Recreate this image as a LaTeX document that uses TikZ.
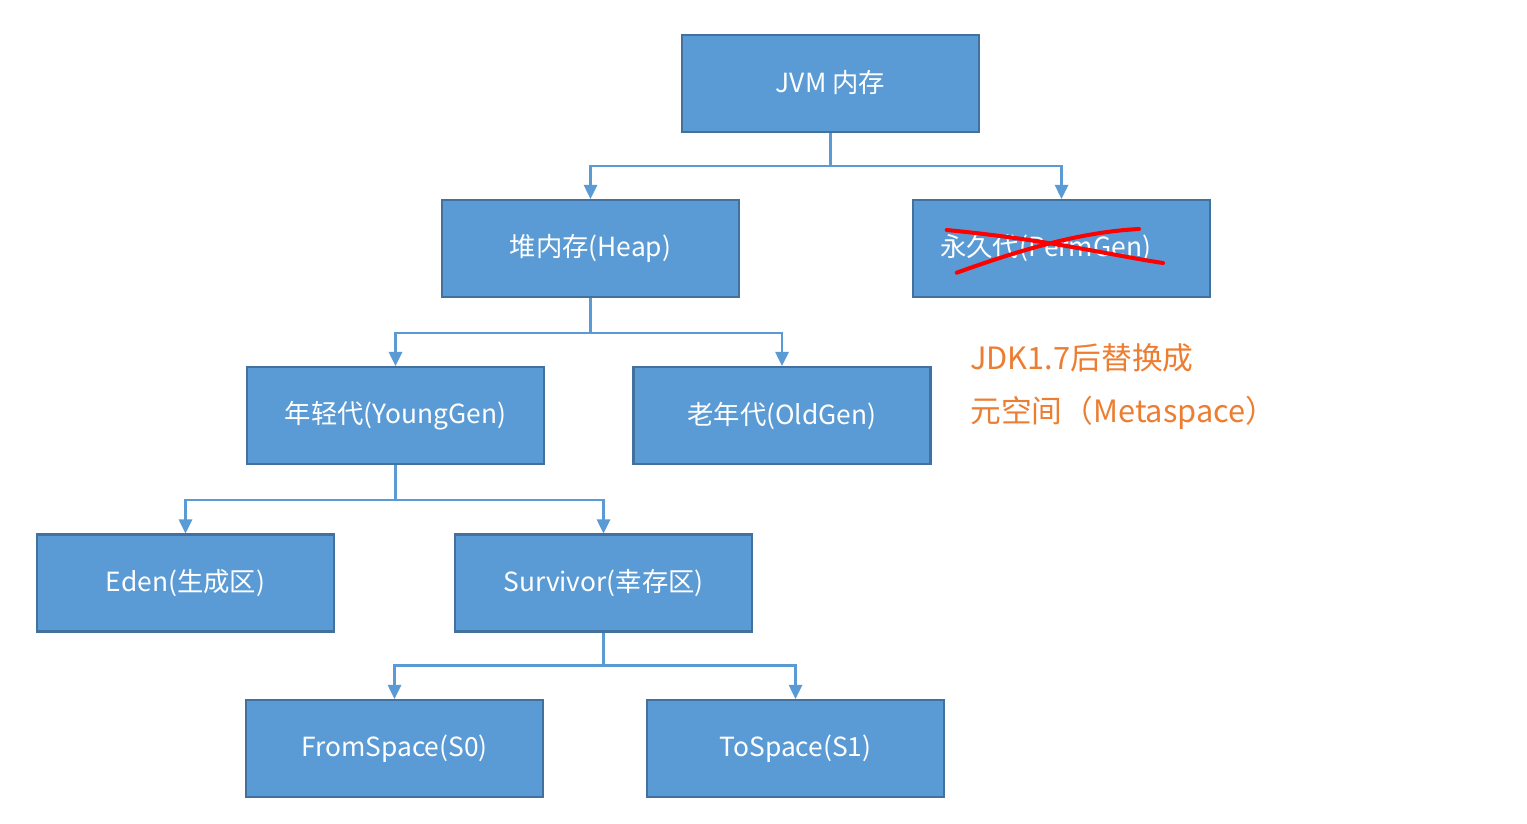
\documentclass[tikz,border=0pt]{standalone}
\usepackage{fontspec}
\newfontfamily\cjk{Noto Sans CJK SC}
\usetikzlibrary{arrows.meta}
\definecolor{boxblue}{HTML}{5B9BD5}
\definecolor{boxedge}{HTML}{41719C}
\definecolor{noteorange}{HTML}{ED7D31}
\tikzset{
  mem/.style={draw=boxedge, line width=1.2pt, fill=boxblue, minimum width=5.94cm, minimum height=1.94cm, inner sep=0pt, text=white, font=\cjk\fontsize{15}{18}\selectfont},
  conn/.style={draw=boxblue, line width=1.3pt, -{Triangle[width=7.5pt,length=8pt]}},
  note/.style={text=noteorange, font=\cjk\fontsize{17.5}{21}\selectfont, anchor=west, inner sep=0pt}
}
\begin{document}
\begin{tikzpicture}[x=0.02cm,y=-0.02cm]
\useasboundingbox[fill=white] (0,0) rectangle (1527,823);
\node[mem] (jvm) at (830.5,83.5) {\raisebox{2pt}{JVM 内存}};
\node[mem] (heap) at (590.5,248.5) {堆内存(Heap)};
\node[mem] (perm) at (1061.5,248.5) {\hspace{-0.64cm}永久代(PermGen)};
\node[mem] (young) at (395.5,415.5) {\raisebox{2pt}{年轻代(YoungGen)}};
\node[mem] (old) at (782,415.5) {\raisebox{2pt}{老年代(OldGen)}};
\node[mem] (eden) at (185.5,583) {\raisebox{2pt}{Eden(生成区)}};
\node[mem] (surv) at (603.5,583) {\raisebox{2pt}{Survivor(幸存区)}};
\node[mem] (from) at (394.5,748.5) {FromSpace(S0)};
\node[mem] (to) at (795.5,748.5) {ToSpace(S1)};
\draw[conn] (jvm.south) -- ++(0,33) -| (heap.north);
\draw[conn] (jvm.south) -- ++(0,33) -| (perm.north);
\draw[conn] (heap.south) -- ++(0,35) -| (young.north);
\draw[conn] (heap.south) -- ++(0,35) -| (old.north);
\draw[conn] (young.south) -- ++(0,35) -| (eden.north);
\draw[conn] (young.south) -- ++(0,35) -| (surv.north);
\draw[conn] (surv.south) -- ++(0,33) -| (from.north);
\draw[conn] (surv.south) -- ++(0,33) -| (to.north);
\draw[red, line width=2.3pt, line cap=round] (946.7,230) .. controls (1050,240) and (1110,255) .. (1163,263);
\draw[red, line width=2.3pt, line cap=round] (956.7,272.7) .. controls (1020,250) and (1080,232) .. (1139,229);
\node[note] (n1) at (970,358) {JDK1.7后替换成};
\node[note] (n2) at (970,413) {元空间（Metaspace）};
\end{tikzpicture}
\end{document}
